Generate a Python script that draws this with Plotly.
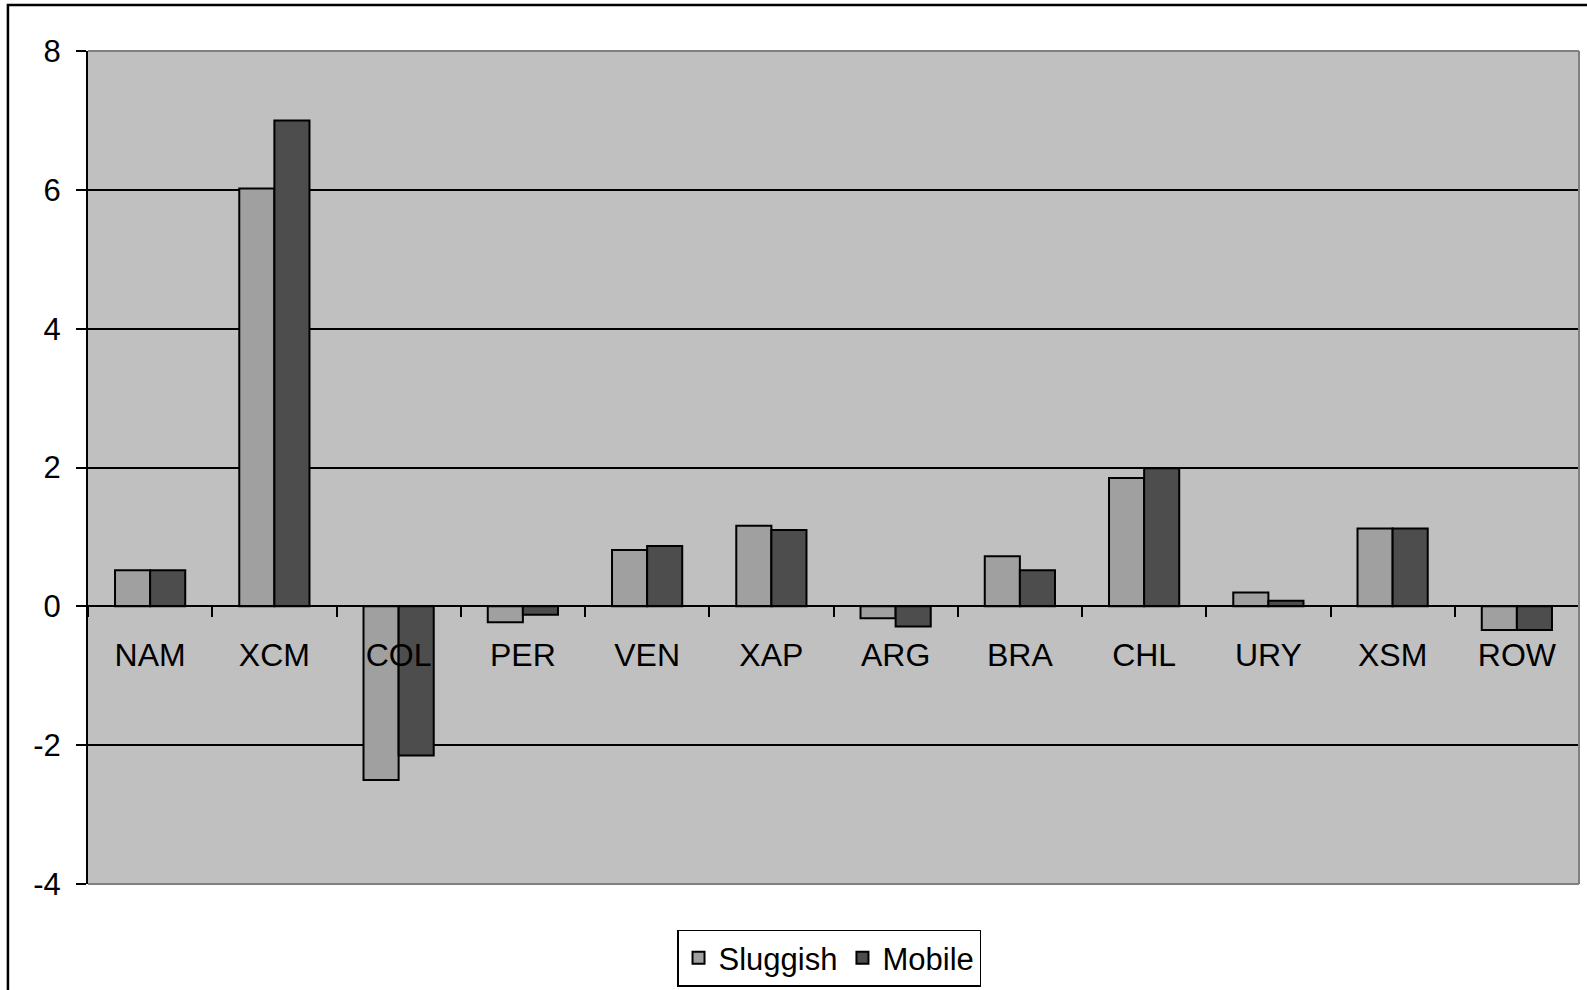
import plotly.graph_objects as go

categories = ["NAM", "XCM", "COL", "PER", "VEN", "XAP", "ARG", "BRA", "CHL", "URY", "XSM", "ROW"]
sluggish = [0.52, 6.02, -2.50, -0.23, 0.81, 1.16, -0.17, 0.72, 1.85, 0.20, 1.12, -0.34]
mobile = [0.52, 7.00, -2.15, -0.12, 0.87, 1.10, -0.29, 0.52, 1.99, 0.08, 1.12, -0.34]
y_ticks = [-4, -2, 0, 2, 4, 6, 8]
y_tick_text = ["-4", "-2", "0", "2", "4", "6", "8"]

FONT = "Liberation Sans, Arial, sans-serif"

fig = go.Figure()
fig.add_trace(go.Bar(x=categories, y=sluggish, name="Sluggish",
                     marker=dict(color="#A0A0A0", line=dict(color="black", width=2))))
fig.add_trace(go.Bar(x=categories, y=mobile, name="Mobile",
                     marker=dict(color="#4D4D4D", line=dict(color="black", width=2))))

fig.update_layout(
    width=1587, height=990,
    margin=dict(l=88, r=8, t=51, b=106, autoexpand=False),
    paper_bgcolor="white",
    plot_bgcolor="#C0C0C0",
    barmode="group",
    bargap=0.435,
    bargroupgap=0,
    font=dict(family=FONT, size=31, color="black"),
    showlegend=True,
    legend=dict(
        orientation="h",
        x=0.497, xanchor="center",
        y=-0.089, yanchor="middle",
        bgcolor="white",
        bordercolor="black",
        borderwidth=1.5,
        font=dict(family=FONT, size=31, color="black"),
        itemwidth=30,
        tracegroupgap=0,
    ),
    xaxis=dict(
        type="category",
        anchor="free",
        position=1/3,
        automargin=False,
        showline=True, linecolor="black", linewidth=2,
        ticks="outside", ticklen=10, tickwidth=1.5, tickcolor="black",
        tickson="boundaries",
        showgrid=False,
        ticklabelstandoff=20,
        tickfont=dict(family=FONT, size=32, color="black"),
    ),
    yaxis=dict(
        range=[-4, 8],
        tickvals=y_ticks,
        ticktext=y_tick_text,
        automargin=False,
        showline=True, linecolor="black", linewidth=2,
        ticks="outside", ticklen=10, tickwidth=1.5, tickcolor="black",
        showgrid=True, gridcolor="black", gridwidth=1.5,
        zeroline=False,
        tickfont=dict(family=FONT, size=31, color="black"),
        ticklabelstandoff=9,
    ),
    shapes=[
        # gray plot border (top, right, bottom)
        dict(type="line", xref="paper", yref="paper", x0=0, x1=1, y0=1, y1=1,
             line=dict(color="#808080", width=2), layer="above"),
        dict(type="line", xref="paper", yref="paper", x0=1, x1=1, y0=0, y1=1,
             line=dict(color="#808080", width=2), layer="above"),
        dict(type="line", xref="paper", yref="paper", x0=0, x1=1, y0=0, y1=0,
             line=dict(color="#808080", width=2), layer="above"),
        # outer chart frame
        dict(type="rect", xref="paper", yref="paper",
             x0=-0.0537, x1=1.03, y0=-0.2, y1=1.0552,
             line=dict(color="black", width=2.5), layer="below"),
    ],
)

fig.write_html("out.html", config={"displayModeBar": False},
               post_script="document.body.style.margin='0';")
